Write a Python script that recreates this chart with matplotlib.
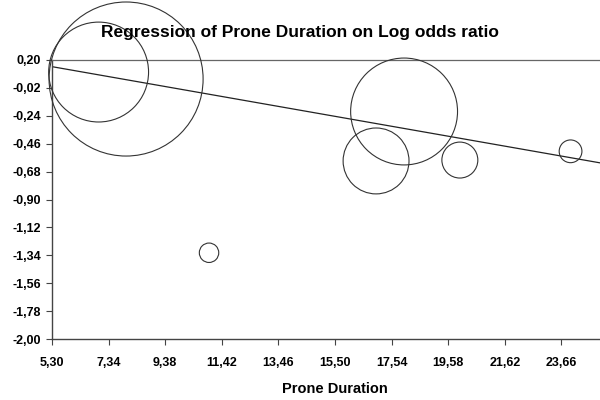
import numpy as np
import matplotlib
matplotlib.use('Agg')
import matplotlib.pyplot as plt

plt.rcParams['font.family'] = ['Liberation Sans', 'DejaVu Sans']

# studies: prone duration vs log odds ratio, bubble = relative weight (%)
duration = [7.97, 6.98, 10.96, 17.99, 16.98, 20.00, 23.99]
log_or = [0.05, 0.105, -1.32, -0.206, -0.596, -0.589, -0.52]
weight = [45.9, 19.3, 0.73, 22.1, 8.4, 2.5, 1.0]

# fitted regression line
intercept = 0.351
slope = -0.0384

x_ticks = [5.30, 7.34, 9.38, 11.42, 13.46, 15.50, 17.54, 19.58, 21.62, 23.66]
y_ticks = [0.20, -0.02, -0.24, -0.46, -0.68, -0.90, -1.12, -1.34, -1.56, -1.78, -2.00]

fig = plt.figure(figsize=(6, 4), dpi=100)
# axes deliberately runs past the right edge like the original crop
ax = fig.add_axes([52 / 600, 61 / 400, 566 / 600, 279 / 400])

ax.set_xlim(5.30, 25.70)
ax.set_ylim(-2.00, 0.20)

w = np.array(weight)
ax.scatter(duration, log_or, s=w * 268, facecolors='none', edgecolors='#333333',
           linewidths=0.8, clip_on=False, zorder=3)

xl = np.array([5.30, 25.70])
ax.plot(xl, intercept + slope * xl, color='#222222', linewidth=0.9, zorder=2)

ax.set_xticks(x_ticks)
ax.set_yticks(y_ticks)
ax.set_xticklabels([f'{v:.2f}'.replace('.', ',') for v in x_ticks])
ax.set_yticklabels([f'{v:.2f}'.replace('.', ',') for v in y_ticks])
ax.tick_params(labelsize=9, length=4, width=0.8, color='#444444')
for lab in ax.get_xticklabels() + ax.get_yticklabels():
    lab.set_fontweight('bold')
ax.tick_params(axis='x', pad=9)
ax.tick_params(axis='y', pad=4)

for s in ['left', 'bottom']:
    ax.spines[s].set_color('#444444')
    ax.spines[s].set_linewidth(1.0)
ax.spines['top'].set_color('#666666')
ax.spines['top'].set_linewidth(0.9)
ax.spines['right'].set_visible(False)

ax.set_xlabel('Prone Duration', fontsize=10.5, fontweight='bold', labelpad=9)
fig.text(0.5, 0.92, 'Regression of Prone Duration on Log odds ratio',
         ha='center', va='center', fontsize=12.5, fontweight='bold')

fig.savefig('out.png', dpi=100)
